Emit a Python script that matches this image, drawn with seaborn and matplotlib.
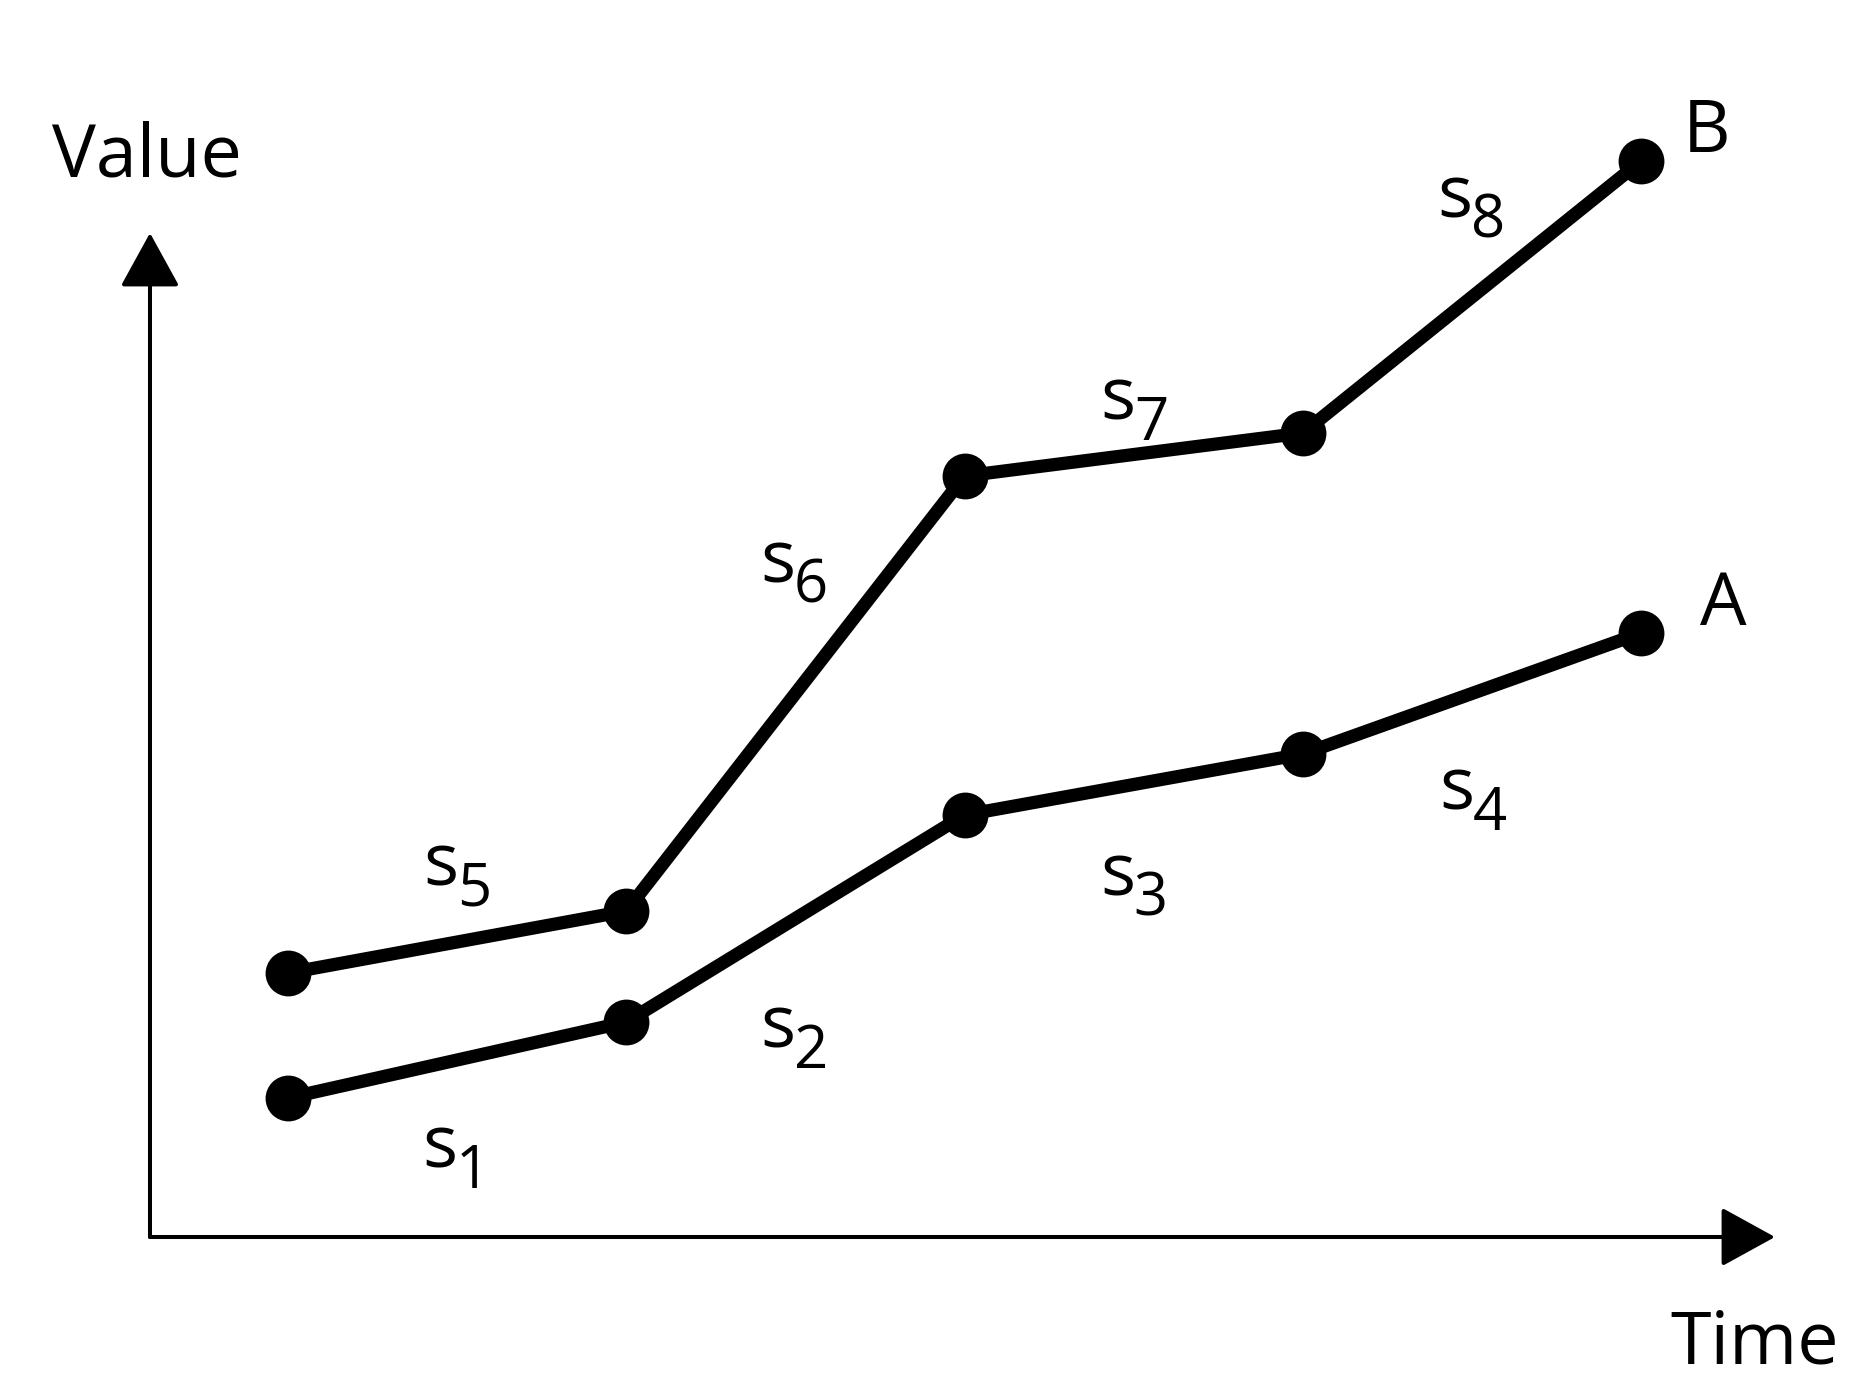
import matplotlib
matplotlib.use("Agg")
import matplotlib.pyplot as plt
import seaborn as sns
import pandas as pd

# ---- data ----
time_points = [1, 2, 3, 4, 5]
series_a = [1.39, 2.15, 4.22, 4.83, 6.04]
series_b = [2.64, 3.26, 7.61, 8.04, 10.76]
series_names = ["A", "B"]

segment_labels = ["1", "2", "3", "4", "5", "6", "7", "8"]
segment_label_t = [1.396, 2.395, 3.400, 4.403, 1.399, 2.395, 3.400, 4.397]
segment_label_v = [0.69, 1.89, 3.42, 4.27, 3.52, 6.54, 8.17, 10.19]

series_label_t = [5.175, 5.122]
series_label_v = [6.12, 10.85]

x_axis_label = "Time"
y_axis_label = "Value"

# ---- build frame ----
df = pd.DataFrame({
    "Time": time_points * 2,
    "Value": series_a + series_b,
    "series": [series_names[0]] * len(time_points) + [series_names[1]] * len(time_points),
})

sns.set_theme(style="white")
plt.rcParams["font.family"] = ["Open Sans", "DejaVu Sans"]

fig = plt.figure(figsize=(18.66, 13.79), dpi=100)
ax = fig.add_axes([0, 0, 1, 1])

sns.lineplot(data=df, x="Time", y="Value", hue="series",
             palette={"A": "black", "B": "black"}, estimator=None, sort=False,
             marker="o", legend=False, ax=ax)
for ln in ax.lines:
    ln.set_linewidth(9.5)
    ln.set_markersize(33)
    ln.set_markeredgewidth(0)
    ln.set_solid_capstyle("butt")

ax.set_xlim(0.1486, 5.665)
ax.set_ylim(-1.42, 12.37)
ax.axis("off")

origin_t, origin_v = 0.592, 0.0
x_tip, y_tip = 5.396, 10.04
arrow_kw = dict(arrowstyle="-|>,head_length=1.0,head_width=0.55", mutation_scale=34,
                lw=2.9, color="black", shrinkA=0, shrinkB=0)
ax.annotate("", xy=(x_tip, origin_v), xytext=(origin_t, origin_v), arrowprops=arrow_kw)
ax.annotate("", xy=(origin_t, y_tip), xytext=(origin_t, origin_v), arrowprops=arrow_kw)

fs = 53
sub_fs = 43
for lab, t, v in zip(segment_labels, segment_label_t, segment_label_v):
    ax.text(t, v, "s", fontsize=fs, ha="left", va="baseline", color="black")
    ax.annotate(lab, xy=(t, v), xytext=(24.5, -14.4), textcoords="offset points",
                fontsize=sub_fs, ha="left", va="baseline", color="black")

for name, t, v in zip(series_names, series_label_t, series_label_v):
    ax.text(t, v, name, fontsize=fs, ha="left", va="baseline", color="black")

ax.text(5.086, -1.26, x_axis_label, fontsize=fs, ha="left", va="baseline", color="black")
ax.text(0.302, 10.60, y_axis_label, fontsize=fs, ha="left", va="baseline", color="black")

fig.savefig("out.png", dpi=100, facecolor="white")
